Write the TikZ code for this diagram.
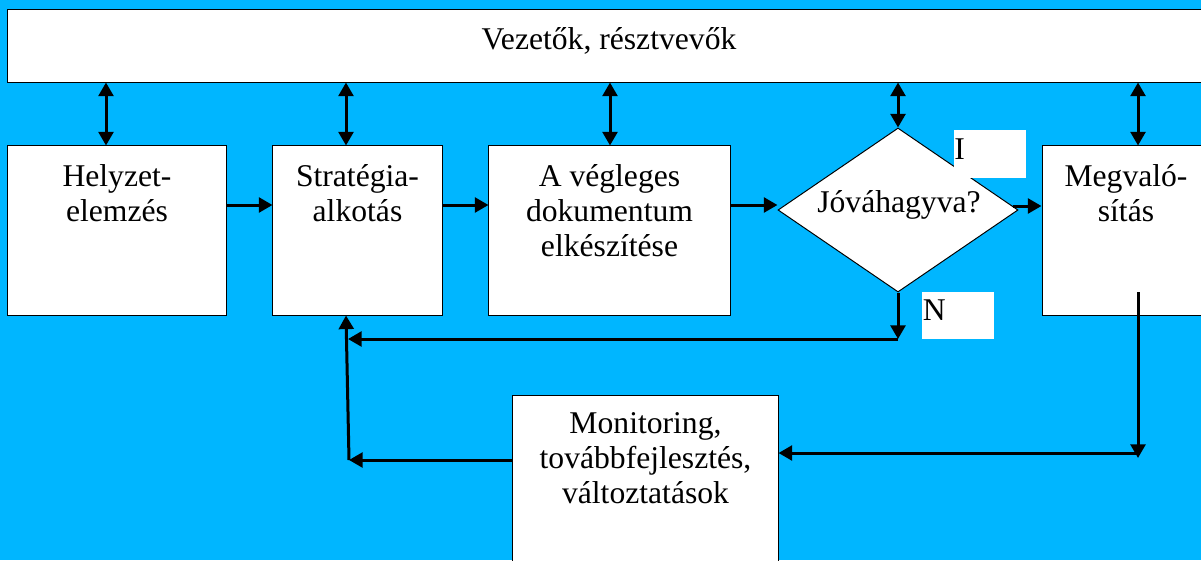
\documentclass[tikz,border=0pt]{standalone}
\usepackage{fontspec}
\setmainfont{Liberation Serif}
\usetikzlibrary{arrows.meta,shapes.geometric}
\definecolor{bgcyan}{RGB}{0,182,255}
\begin{document}
\begin{tikzpicture}[x=0.025cm,y=-0.025cm,
  box/.style={draw=black,line width=0.7pt,fill=white,inner sep=0pt,rectangle},
  dbox/.style={draw=black,line width=0.7pt,fill=white,inner sep=0pt,diamond},
  txt/.style={font=\fontsize{22.5}{25}\selectfont,align=center,inner sep=0pt},
  lbl/.style={fill=white,inner sep=0pt,minimum width=1.8cm,minimum height=1.2cm},
  arr/.style={line width=0.075cm,-{Triangle[length=0.34cm,width=0.37cm]}},
  darr/.style={line width=0.075cm,{Triangle[length=0.34cm,width=0.37cm]}-{Triangle[length=0.34cm,width=0.37cm]}}
]
\useasboundingbox (0,0) rectangle (1201,560);
\fill[bgcyan] (0,0) rectangle (1201,560);
\clip (0,0) rectangle (1201,560);

% boxes
\node[box,minimum width=30.05cm,minimum height=1.82cm] (top) at (609,45.6) {};
\node[box,minimum width=5.45cm,minimum height=4.225cm] (helyzet) at (117,230.5) {};
\node[box,minimum width=4.225cm,minimum height=4.225cm] (strat) at (357.5,230.5) {};
\node[box,minimum width=6.025cm,minimum height=4.225cm] (vegl) at (609.5,230.5) {};
\node[dbox,minimum width=6cm,minimum height=4.1cm] (jovahagy) at (898,210) {};
\node[box,minimum width=4.2cm,minimum height=4.225cm] (megval) at (1126,230.5) {};
\node[box,minimum width=6.625cm,minimum height=5.1cm] (monitor) at (645.5,498) {};

% texts
\node[txt,anchor=base] (toptext) at (609,49) {Vezetők, résztvevők};
\node[txt,anchor=north] (helyzettext) at (117,161.7) {\strut Helyzet-\\elemzés};
\node[txt,anchor=north] (strattext) at (357.5,161.7) {\strut Stratégia-\\alkotás};
\node[txt,anchor=north] (vegltext) at (609.5,161.7) {\strut A végleges\\dokumentum\\elkészítése};
\node[txt,anchor=base] (jovtext) at (899,212) {Jóváhagyva?};
\node[txt,anchor=north] (megvaltext) at (1126,161.7) {\strut Megvaló-\\sítás};
\node[txt,anchor=north] (monitortext) at (645.5,408.4) {\strut Monitoring,\\továbbfejlesztés,\\változtatások};

% labels
\node[lbl] (ilbl) at (990,154) {};
\node[txt,anchor=base west] (itxt) at (954,159) {I};
\node[lbl,minimum height=1.175cm] (nlbl) at (958,315.5) {};
\node[txt,anchor=base west] (ntxt) at (922.5,320) {N};

% helper coordinates
\coordinate (a1x) at (106,0);
\coordinate (a2x) at (346,0);
\coordinate (a3x) at (610,0);
\coordinate (a4x) at (898,0);
\coordinate (a5x) at (1138,0);
\coordinate (rowy) at (0,205);
\coordinate (ncorner) at (898,339);
\coordinate (nend) at (348,339);
\coordinate (fb) at (349,460);
\coordinate (mtop) at (1138,292);
\coordinate (mbot) at (1138,458);
\coordinate (mh) at (1138,453);

% vertical double arrows
\draw[darr] (top.south -| a1x) -- (helyzet.north -| a1x);
\draw[darr] (top.south -| a2x) -- (strat.north -| a2x);
\draw[darr] (top.south -| a3x) -- (vegl.north -| a3x);
\draw[darr] (top.south -| a4x) -- (jovahagy.north);
\draw[darr] (top.south -| a5x) -- (megval.north -| a5x);

% main flow
\draw[arr] (helyzet.east |- rowy) -- (strat.west |- rowy);
\draw[arr] (strat.east |- rowy) -- (vegl.west |- rowy);
\draw[arr] (vegl.east |- rowy) -- (jovahagy.west |- rowy);
\draw[arr] (jovahagy.2.5) -- (megval.west |- jovahagy.2.5);

% N branch
\draw[arr] (jovahagy.south) -- (ncorner);
\draw[arr] (ncorner) -- (nend);

% feedback
\draw[arr] (fb) -- (strat.south -| a2x);
\draw[arr] (monitor.west |- fb) -- (fb);
\draw[arr] (mtop) -- (mbot);
\draw[arr] (mh) -- (monitor.east |- mh);
\end{tikzpicture}
\end{document}
